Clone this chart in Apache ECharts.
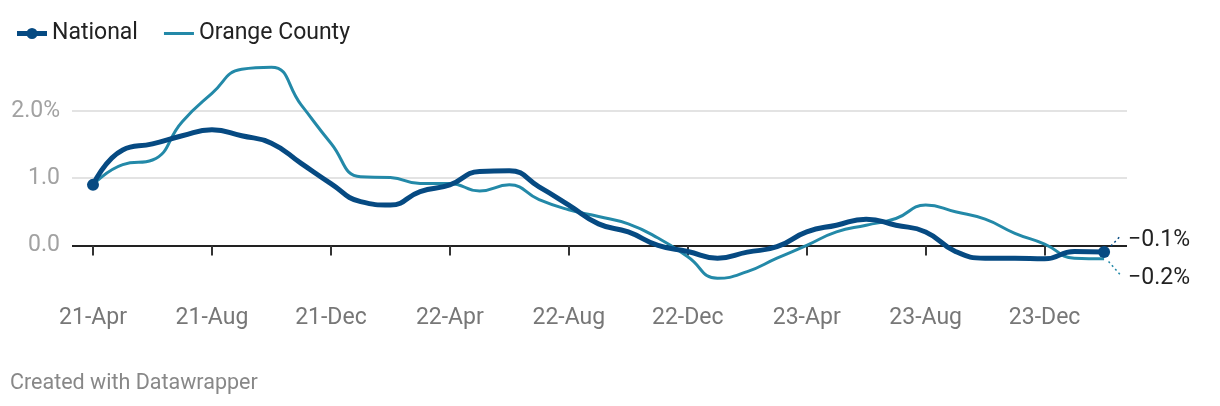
<!DOCTYPE html>
<html>
<head>
<meta charset="utf-8">
<script src="https://cdn.jsdelivr.net/npm/echarts@6/dist/echarts.min.js"></script>
<style>
  html, body { margin: 0; padding: 0; background: #fff; }
  #chart { width: 1220px; height: 406px; }
</style>
</head>
<body>
<div id="chart"></div>
<script>
// months from 21-Apr to 24-Feb
const months = [
  "21-Apr", "21-May", "21-Jun", "21-Jul", "21-Aug", "21-Sep", "21-Oct", "21-Nov", "21-Dec",
  "22-Jan", "22-Feb", "22-Mar", "22-Apr", "22-May", "22-Jun", "22-Jul", "22-Aug", "22-Sep",
  "22-Oct", "22-Nov", "22-Dec", "23-Jan", "23-Feb", "23-Mar", "23-Apr", "23-May", "23-Jun",
  "23-Jul", "23-Aug", "23-Sep", "23-Oct", "23-Nov", "23-Dec", "24-Jan", "24-Feb"
];
const national = [
  0.9, 1.42, 1.51, 1.63, 1.72, 1.63, 1.52, 1.22, 0.92, 0.65, 0.6, 0.8,
  0.9, 1.1, 1.11, 0.87, 0.6, 0.32, 0.2, 0.0, -0.09, -0.19, -0.1, -0.02,
  0.2, 0.3, 0.39, 0.3, 0.2, -0.09, -0.19, -0.19, -0.2, -0.09, -0.1
];
const orangeCounty = [
  0.9, 1.2, 1.27, 1.84, 2.26, 2.62, 2.65, 2.09, 1.52, 1.02, 1.01, 0.92,
  0.92, 0.81, 0.9, 0.68, 0.53, 0.43, 0.32, 0.11, -0.17, -0.49, -0.39, -0.19,
  0.0, 0.2, 0.3, 0.4, 0.6, 0.5, 0.39, 0.18, 0.02, -0.19, -0.2
];
const tickMonths = ["21-Apr", "21-Aug", "21-Dec", "22-Apr", "22-Aug", "22-Dec", "23-Apr", "23-Aug", "23-Dec"];
const endLabels = ["\u22120.1%", "\u22120.2%"];

const navy = "#064a82";
const teal = "#2389a8";
const last = months.length - 1;
const tickIdx = tickMonths.map(m => months.indexOf(m));

const chart = echarts.init(document.getElementById("chart"));
chart.setOption({
  animation: false,
  textStyle: { fontFamily: "Roboto" },
  legend: {
    left: 12,
    top: 17,
    itemWidth: 30,
    itemHeight: 11,
    itemGap: 26,
    textStyle: { fontSize: 23, color: "#222", fontFamily: "Roboto" },
    data: [
      // line with a dot, and a plain line
      { name: "National", icon: "path://M0,3 L30,3 L30,8 L0,8 Z M15,0 A5.5,5.5 0 1 1 15,11 A5.5,5.5 0 1 1 15,0 Z" },
      { name: "Orange County", icon: "path://M0,0 L30,0 L30,3 L0,3 Z" }
    ]
  },
  graphic: [{
    type: "text",
    left: 10,
    top: 373,
    style: { text: "Created with Datawrapper", fontSize: 21.5, fill: "#888", fontFamily: "Roboto" }
  }],
  grid: { left: 72, right: 93, top: 77.3, bottom: 127, containLabel: false },
  xAxis: {
    type: "value",
    min: -0.706,
    max: 34.77,
    axisLine: { show: false },
    splitLine: { show: false },
    axisTick: {
      show: true,
      customValues: tickIdx,
      length: 10,
      lineStyle: { color: "#333", width: 2 }
    },
    axisLabel: {
      customValues: tickIdx,
      formatter: v => months[Math.round(v)],
      margin: 28,
      fontSize: 23,
      color: "#777",
      fontFamily: "Roboto"
    }
  },
  yAxis: {
    type: "value",
    min: -0.5,
    max: 2.5,
    interval: 0.5,
    axisLine: { show: false },
    axisTick: { show: false },
    splitLine: {
      lineStyle: {
        width: 2,
        color: ["transparent", "#222", "transparent", "#e3e3e3", "transparent", "#e3e3e3", "transparent"]
      }
    },
    axisLabel: {
      margin: 12,
      fontSize: 23,
      color: "#a2a2a2",
      fontFamily: "Roboto",
      formatter: v => {
        if (v === 2) return "2.0%";
        if (v === 1) return "1.0";
        if (v === 0) return "0.0";
        return "";
      }
    }
  },
  series: [
    {
      name: "Orange County",
      type: "line",
      data: orangeCounty.map((v, i) => [i, v]),
      smooth: 0.5,
      clip: false,
      symbol: "none",
      lineStyle: { color: teal, width: 3 },
      itemStyle: { color: teal },
      z: 2,
      endLabel: {
        show: true,
        formatter: endLabels[1],
        distance: 0,
        offset: [24, 19],
        fontSize: 23,
        color: "#222",
        fontFamily: "Roboto"
      },
      markLine: {
        silent: true,
        symbol: "none",
        label: { show: false },
        lineStyle: { color: teal, type: [2, 3], width: 1.5 },
        data: [[{ coord: [34.15, -0.24] }, { coord: [34.53, -0.43] }]]
      }
    },
    {
      name: "National",
      type: "line",
      data: national.map((v, i) => [i, v]),
      smooth: 0.5,
      clip: false,
      symbol: "circle",
      showAllSymbol: true,
      symbolSize: (val, p) => (p.dataIndex === 0 || p.dataIndex === last) ? 12 : 0,
      lineStyle: { color: navy, width: 5 },
      itemStyle: { color: navy },
      z: 3,
      endLabel: {
        show: true,
        formatter: endLabels[0],
        distance: 0,
        offset: [24, -12],
        fontSize: 23,
        color: "#222",
        fontFamily: "Roboto"
      },
      markLine: {
        silent: true,
        symbol: "none",
        label: { show: false },
        lineStyle: { color: navy, type: [2, 3], width: 1.5 },
        data: [[{ coord: [34.23, -0.01] }, { coord: [34.53, 0.13] }]]
      }
    }
  ]
});
</script>
</body>
</html>
